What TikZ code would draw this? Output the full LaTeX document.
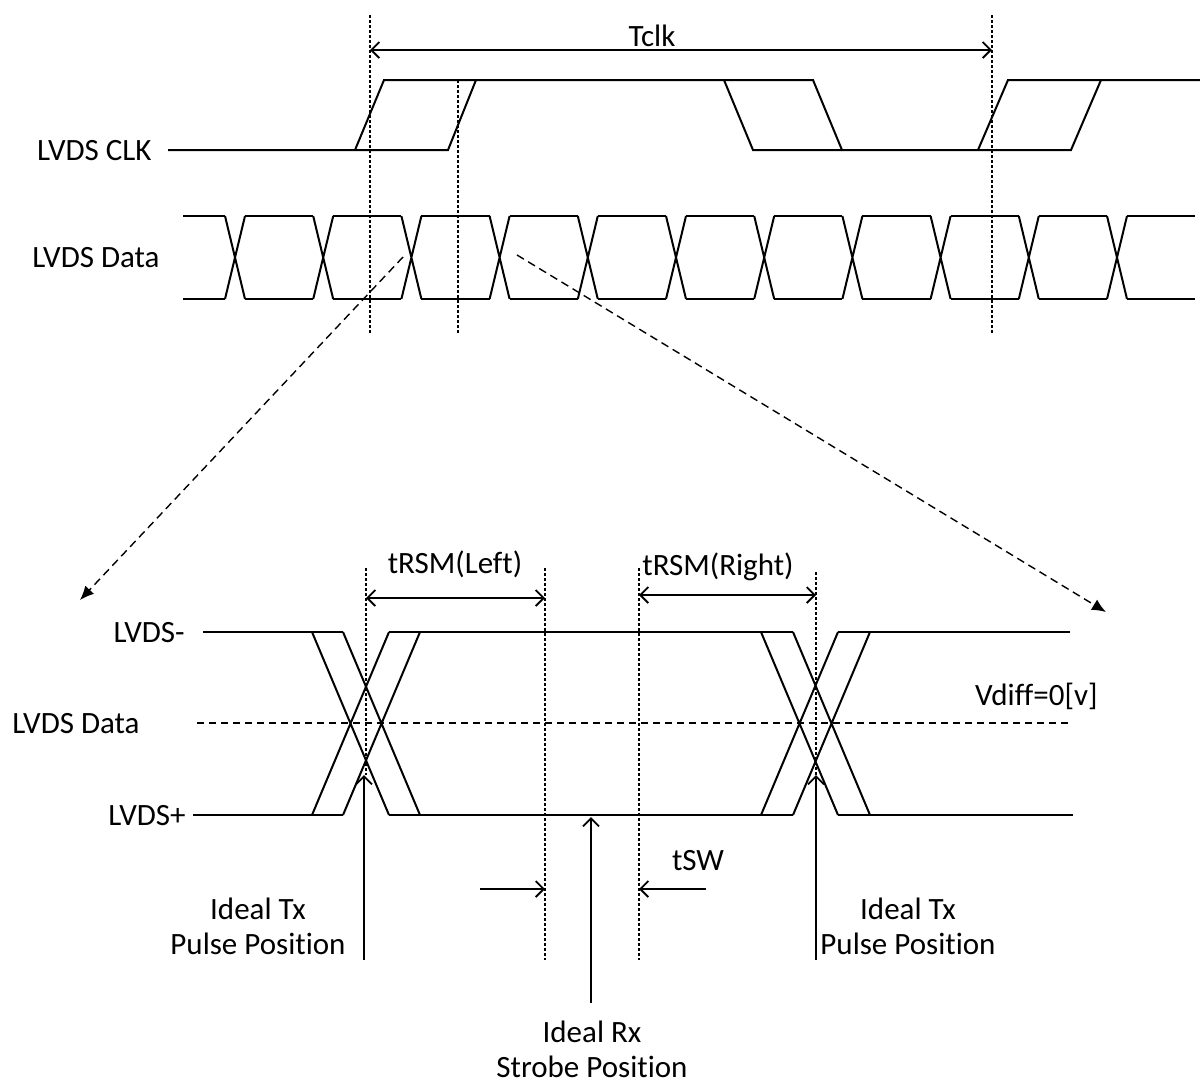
\documentclass[tikz,border=0pt]{standalone}
\usepackage{fontspec}
\setmainfont[Ligatures=NoCommon]{Carlito}
\usetikzlibrary{arrows.meta, positioning}

\begin{document}
\begin{tikzpicture}[x=0.5pt, y=-0.5pt,
    font=\fontsize{15.5}{17.5}\selectfont,
    wave/.style={line width=1pt},
    guide/.style={line width=0.6pt, dash pattern=on 1.5pt off 1pt},
    zoomline/.style={line width=0.7pt, dash pattern=on 4pt off 2.5pt, -{Latex[length=7pt,width=6pt]}},
    dim/.style={line width=0.9pt, {Straight Barb[length=4pt,width=8pt]}-{Straight Barb[length=4pt,width=8pt]}},
    pointer/.style={line width=0.9pt, -{Straight Barb[length=4pt,width=8pt]}},
    lbl/.style={inner sep=0pt, anchor=base east},
    txt/.style={inner sep=0pt, anchor=base}]
    \useasboundingbox (0,0) rectangle (1200,1084);

    % labels
    \node[lbl] (clk) at (152,160) {LVDS CLK};
    \node[lbl] (data) at (160,267) {LVDS Data};
    \node[txt] (tclk) at (652,46) {Tclk};

    % clock, two edges each (jitter)
    \draw[wave] (168,150) -- (448,150) -- (476,80) -- (813,80) -- (842,150) -- (1071,150) -- (1101,80) -- (1200,80);
    \draw[wave] (355,150) -- (384,80) -- (476,80);
    \draw[wave] (724,80) -- (753,150) -- (842,150);
    \draw[wave] (978,150) -- (1008,80) -- (1101,80);

    % data eye
    \foreach \k in {0,...,10}{
        \pgfmathsetmacro{\c}{235+88.2*\k}
        \draw[wave] (\c-10,216) -- (\c+10,299) (\c-10,299) -- (\c+10,216);
    }
    \foreach \k in {0,...,9}{
        \pgfmathsetmacro{\c}{235+88.2*\k}
        \draw[wave] (\c+10,216) -- (\c+78.2,216) (\c+10,299) -- (\c+78.2,299);
    }
    \draw[wave] (183,216) -- (225,216) (183,299) -- (225,299)
        (1127,216) -- (1195,216) (1127,299) -- (1195,299);

    % guides
    \draw[guide] (370,15) -- (370,335);
    \draw[guide] (458,80) -- (458,333);
    \draw[guide] (992,15) -- (992,335);

    \coordinate (tclkA) at (370,50);
    \coordinate (tclkB) at (992,50);
    \path[dim] (tclkA) edge (tclkB);

    % zoom arrows
    \coordinate (zoomA) at (403,257);
    \coordinate (zoomB) at (517,255);
    \coordinate (zoomL) at (80,600);
    \coordinate (zoomR) at (1106,612);
    \path[zoomline] (zoomA) edge (zoomL)
        (zoomB) edge (zoomR);

    % detail view
    \node[lbl] (minus) at (185,642) {LVDS-};
    \node[lbl] (mid) at (140,733) {LVDS Data};
    \node[lbl] (plus) at (186,825) {LVDS+};
    \node[lbl] (vdiff) at (1098,705) {Vdiff=0[v]};

    \draw[wave] (203,632) -- (343,632) (389,632) -- (793,632) (838,632) -- (1070,632);
    \draw[wave] (193,815) -- (343,815) (389,815) -- (793,815) (838,815) -- (1073,815);
    \foreach \l in {312,343,761,793}
        \draw[wave] (\l,632) -- (\l+77,815) (\l,815) -- (\l+77,632);
    \draw[line width=0.9pt, dash pattern=on 3.5pt off 2.5pt] (197,723) -- (1072,723);

    \draw[guide] (366,568) -- (366,775);
    \draw[guide] (545,568) -- (545,960);
    \draw[guide] (639,568) -- (639,960);
    \draw[guide] (816,572) -- (816,775);

    \coordinate (rsmLa) at (366,598);
    \coordinate (rsmLb) at (545,598);
    \coordinate (rsmRa) at (639,595);
    \coordinate (rsmRb) at (816,595);
    \path[dim] (rsmLa) edge (rsmLb)
        (rsmRa) edge (rsmRb);
    \node[txt] (rsmL) at (455,573) {tRSM(Left)};
    \node[txt] (rsmR) at (718,575) {tRSM(Right)};

    \coordinate (swA) at (480,889);
    \coordinate (swB) at (545,889);
    \coordinate (swC) at (706,889);
    \coordinate (swD) at (639,889);
    \path[pointer] (swA) edge (swB)
        (swC) edge (swD);
    \node[txt] (tsw) at (698,870) {tSW};

    \coordinate (txLfoot) at (364,960);
    \coordinate (txLtip) at (364,775);
    \coordinate (txRfoot) at (816,960);
    \coordinate (txRtip) at (816,775);
    \coordinate (rxfoot) at (591,1003);
    \coordinate (rxtip) at (591,817);
    \path[pointer] (txLfoot) edge (txLtip)
        (txRfoot) edge (txRtip)
        (rxfoot) edge (rxtip);

    \node[align=center, inner sep=0pt, anchor=north] (txL) at (258,898) {Ideal Tx\\Pulse Position};
    \node[align=center, inner sep=0pt, anchor=north] (txR) at (908,898) {Ideal Tx\\Pulse Position};
    \node[align=center, inner sep=0pt, anchor=north] (rx) at (592,1021) {Ideal Rx\\Strobe Position};
\end{tikzpicture}
\end{document}
